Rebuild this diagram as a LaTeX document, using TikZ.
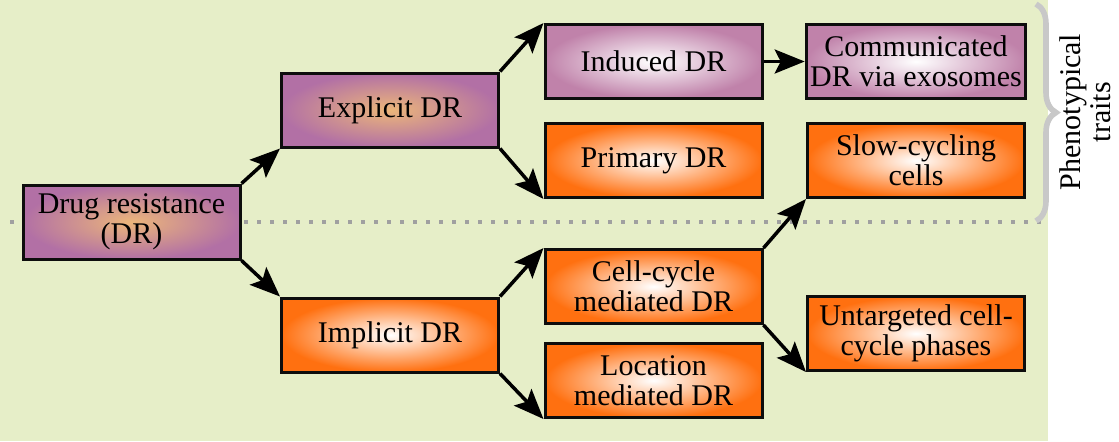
\documentclass[tikz,border=0pt]{standalone}
\usepackage{fontspec}
\setmainfont{Liberation Serif}
\usetikzlibrary{arrows.meta,decorations.pathreplacing}
\definecolor{bggreen}{RGB}{230,238,200}
\definecolor{mauve}{RGB}{178,112,165}
\definecolor{peach}{RGB}{236,182,122}
\definecolor{pinkp}{RGB}{192,130,170}
\definecolor{orng}{RGB}{255,112,16}
\definecolor{bracegray}{RGB}{200,200,200}
\definecolor{dotgray}{RGB}{160,160,160}
\tikzset{
  box/.style={draw=black!95, line width=1.5pt, rectangle, minimum width=108.5pt, minimum height=37pt, align=center, inner sep=2pt, font=\fontsize{15}{15}\selectfont},
  mixbox/.style={box, inner color=peach, outer color=mauve},
  pinkbox/.style={box, inner color=white, outer color=pinkp},
  orbox/.style={box, inner color=white, outer color=orng},
  arr/.style={line width=1.75pt, -{Stealth[length=15pt,width=12pt,inset=3pt]}}
}
\begin{document}
\begin{tikzpicture}[x=0.5pt,y=-0.5pt]
\useasboundingbox (0,0) rectangle (1119,441);
\fill[bggreen] (0,0) rectangle (1048,441);
\draw[dotgray, line width=2pt, dash pattern=on 2pt off 4.5pt] (10,222) -- (1048,222);
\draw[bracegray, line width=2.8pt, decorate, decoration={brace, amplitude=10pt}] (1036,4) -- (1036,221);
\node[rotate=90, align=center, font=\fontsize{15}{15}\selectfont] (pt) at (1085,112) {Phenotypical\\traits};

\node[mixbox] (dr) at (131.5,222) {Drug resistance\\(DR)};
\node[mixbox] (ex) at (390,110) {Explicit DR};
\node[orbox] (im) at (390,335) {Implicit DR};
\node[pinkbox] (ind) at (653.5,61.5) {Induced DR};
\node[orbox] (pri) at (653.5,160.5) {Primary DR};
\node[orbox] (cc) at (653.5,286.5) {Cell-cycle\\mediated DR};
\node[orbox] (loc) at (653.5,380.5) {Location\\mediated DR};
\node[pinkbox] (com) at (916,61.5) {Communicated\\DR via exosomes};
\node[orbox] (slow) at (916,160.5) {Slow-cycling\\cells};
\node[orbox] (unt) at (916,333.5) {Untargeted cell-\\cycle phases};

\draw[arr] (dr.north east) -- (ex.south west);
\draw[arr] (dr.south east) -- (im.north west);
\draw[arr] (ex.north east) -- (ind.north west);
\draw[arr] (ex.south east) -- (pri.south west);
\draw[arr] (ind.east) -- (com.west);
\draw[arr] (im.north east) -- (cc.north west);
\draw[arr] (im.south east) -- (loc.south west);
\draw[arr] (cc.north east) -- (slow.south west);
\draw[arr] (cc.south east) -- (unt.south west);
\end{tikzpicture}
\end{document}
